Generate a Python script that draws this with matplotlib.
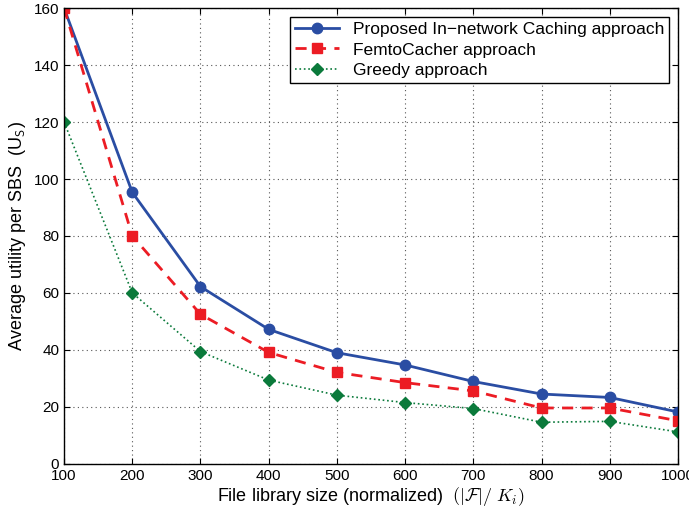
import numpy as np
import matplotlib
matplotlib.use("Agg")
import matplotlib.pyplot as plt

plt.rcParams.update({"font.family": ["Liberation Sans", "DejaVu Sans"],
                     "mathtext.fontset": "cm"})

file_size = [100, 200, 300, 400, 500, 600, 700, 800, 900, 1000]
proposed = [160, 95.3, 62.2, 47.2, 39.0, 34.7, 28.9, 24.5, 23.3, 18.2]
femto = [160, 80.0, 52.5, 39.1, 32.1, 28.5, 25.6, 19.6, 19.6, 15.1]
greedy = [120, 60.0, 39.4, 29.4, 24.1, 21.5, 19.4, 14.6, 14.9, 11.2]

BLUE = "#2a4da3"
RED = "#ec1c24"
GREEN = "#0b7a3b"

fig = plt.figure(figsize=(6.89, 5.08), dpi=100)
ax = fig.add_axes([0.093, 0.087, 0.891, 0.897])

ax.plot(file_size, proposed, "-o", color=BLUE, lw=2, ms=7.5,
        label="Proposed In\u2212network Caching approach")
ax.plot(file_size, femto, "--s", color=RED, lw=2, ms=6.5,
        dashes=(4, 3), label="FemtoCacher approach")
ax.plot(file_size, greedy, ":D", color=GREEN, lw=1.2, ms=6,
        label="Greedy approach")

ax.set_xlim(100, 1000)
ax.set_ylim(0, 160)
ax.set_xticks(file_size)
ax.set_yticks(np.arange(0, 161, 20))
ax.tick_params(direction="in", top=True, right=True, labelsize=11, length=4)
ax.grid(True, linestyle=(0, (1, 3)), color="#555555", lw=0.8)
for s in ax.spines.values():
    s.set_linewidth(1.0)

ax.set_ylabel(r"Average utility per SBS  (U$_{\mathsf{S}}$)", fontsize=13)
ax.set_xlabel(r"File library size (normalized)  $(|\mathcal{F}|/\ K_i)$",
              fontsize=13, labelpad=2)

leg = ax.legend(loc="upper right", fontsize=12.5, fancybox=False,
                edgecolor="black", framealpha=1, borderaxespad=0.5,
                handlelength=2.5, borderpad=0.3, labelspacing=0.3)
leg.get_frame().set_linewidth(1.0)

fig.savefig("out.png", dpi=100)
